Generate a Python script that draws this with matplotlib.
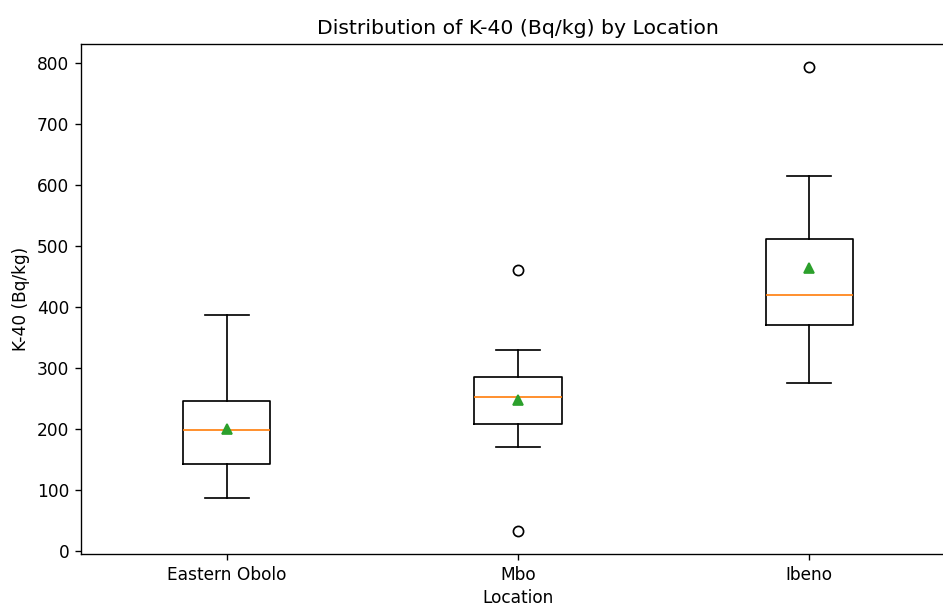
import matplotlib
matplotlib.use("Agg")
import matplotlib.pyplot as plt

locations = ["Eastern Obolo", "Mbo", "Ibeno"]
whisker_low = [86, 170, 276]
q1 = [142, 208, 371]
median = [199, 253, 420]
mean = [200, 248, 463]
q3 = [245, 285, 512]
whisker_high = [386, 330, 614]
outliers = [[], [460, 33], [793]]

stats = []
for i, name in enumerate(locations):
    stats.append(dict(label=name, whislo=whisker_low[i], q1=q1[i], med=median[i],
                      mean=mean[i], q3=q3[i], whishi=whisker_high[i], fliers=outliers[i]))

DPI = 122
fig = plt.figure(figsize=(943/DPI, 606/DPI), dpi=DPI)
ax = fig.add_axes([81/943, 52/606, 874/943, 510/606])
ax.bxp(stats, showmeans=True)
ax.set_xlim(0.5, 3.5)
ax.spines['right'].set_visible(False)
ax.set_title("Distribution of K-40 (Bq/kg) by Location")
ax.set_xlabel("Location", labelpad=3.0)
ax.set_ylabel("K-40 (Bq/kg)")
fig.savefig("out.png", dpi=DPI)
